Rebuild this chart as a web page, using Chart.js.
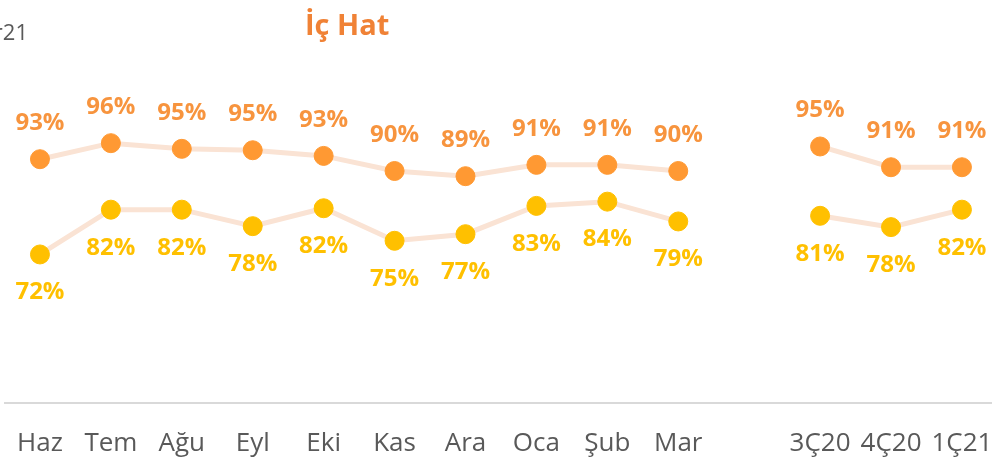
<!DOCTYPE html>
<html>
<head>
<meta charset="utf-8">
<script src="https://cdn.jsdelivr.net/npm/chart.js@4"></script>
<style>
  html, body { margin: 0; padding: 0; background: #fff; overflow: hidden; width: 992px; height: 458px; }
  #wrap { position: relative; width: 992px; height: 458px; overflow: hidden; }
  #chart { position: absolute; left: 0; top: 0; }
  #title { position: absolute; left: 305px; top: 4px; font: bold 29px "Open Sans", sans-serif; color: #F08236; white-space: nowrap; }
  #period { position: absolute; right: 964px; top: 16px; font: 22px "Open Sans", sans-serif; color: #595959; white-space: nowrap; }
</style>
</head>
<body>
<div id="wrap">
  <canvas id="chart" width="1000" height="458"></canvas>
  <div id="title">İç Hat</div>
  <div id="period">Haz20-Mar21</div>
</div>
<script>
const months = ['Haz', 'Tem', 'Ağu', 'Eyl', 'Eki', 'Kas', 'Ara', 'Oca', 'Şub', 'Mar', '', '3Ç20', '4Ç20', '1Ç21'];
const topSeries = [92.6, 96.0, 94.8, 94.5, 93.3, 90.1, 89.0, 91.4, 91.4, 90.1, null, 95.3, 90.9, 90.9];
const bottomSeries = [72.4, 81.9, 81.9, 78.4, 82.2, 75.3, 76.7, 82.7, 83.6, 79.4, null, 80.6, 78.2, 81.9];

const lineColor = '#FAE3D4';

// draw the % labels above / below each point
const pointLabels = {
    id: 'pointLabels',
    afterDatasetsDraw(chart) {
        const ctx = chart.ctx;
        ctx.save();
        ctx.font = 'bold 24px "Open Sans", sans-serif';
        ctx.textAlign = 'center';
        ctx.textBaseline = 'middle';
        chart.data.datasets.forEach((ds, i) => {
            const meta = chart.getDatasetMeta(i);
            ctx.fillStyle = ds.labelColor;
            meta.data.forEach((pt, j) => {
                const v = ds.data[j];
                if (v === null) return;
                ctx.fillText(Math.round(v) + '%', pt.x, pt.y + ds.labelShift);
            });
        });
        ctx.restore();
    }
};

new Chart(document.getElementById('chart'), {
    type: 'line',
    data: {
        labels: months,
        datasets: [
            {
                data: topSeries,
                borderColor: lineColor,
                borderWidth: 5,
                pointRadius: 9.5,
                pointHoverRadius: 9.5,
                pointBackgroundColor: '#FF9933',
                pointBorderColor: '#FF9933',
                pointBorderWidth: 1,
                spanGaps: false,
                labelColor: '#F7943E',
                labelShift: -36
            },
            {
                data: bottomSeries,
                borderColor: lineColor,
                borderWidth: 5,
                pointRadius: 9.5,
                pointHoverRadius: 9.5,
                pointBackgroundColor: '#FFC000',
                pointBorderColor: '#FFC000',
                pointBorderWidth: 1,
                spanGaps: false,
                labelColor: '#FFC000',
                labelShift: 38
            }
        ]
    },
    options: {
        responsive: false,
        animation: false,
        devicePixelRatio: 1,
        layout: { autoPadding: false, padding: { left: 4.5, right: 2.6, top: 30, bottom: 0 } },
        plugins: {
            legend: { display: false },
            tooltip: { enabled: false }
        },
        scales: {
            x: {
                offset: true,
                grid: { display: false, drawTicks: false },
                border: { display: true, color: '#D9D9D9', width: 2 },
                ticks: {
                    color: '#595959',
                    font: { family: 'Open Sans', size: 26 },
                    padding: 25,
                    autoSkip: false,
                    maxRotation: 0
                },
                afterFit(scale) {
                    scale.height = 55;
                    scale.paddingLeft = 0;
                    scale.paddingRight = 0;
                }
            },
            y: {
                display: false,
                min: 40.9,
                max: 120
            }
        }
    },
    plugins: [pointLabels]
});
</script>
</body>
</html>
